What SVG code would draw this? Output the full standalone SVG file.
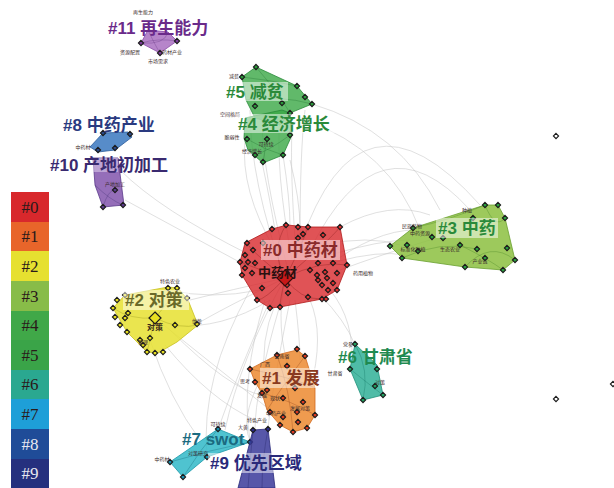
<svg xmlns="http://www.w3.org/2000/svg" xmlns:xlink="http://www.w3.org/1999/xlink" width="614" height="488" viewBox="0 0 614 488">
<style>
.lk{fill:none;stroke:#c8c8c8;stroke-width:0.7;opacity:0.8}
.hull{stroke-width:0.8}
.arc{fill:none;stroke-width:0.6;opacity:0.5}
.lbl{font-family:"Liberation Sans","Noto Sans CJK SC",sans-serif;font-weight:bold;font-size:17px}
.bg{fill:#ffffff;opacity:0.5}
.sm{font-family:"Noto Sans CJK SC",sans-serif;font-size:5px;fill:#3a2a2a}
.leg{font-family:"Liberation Serif",serif;font-size:17px;text-anchor:middle}
.nd{stroke:#1a1a1a;stroke-width:1.1}
</style>
<defs>
<path id="d" d="M0,-2.6L2.6,0L0,2.6L-2.6,0Z"/>
</defs>
<rect width="614" height="488" fill="#ffffff"/>

<g id="links">
<path class="lk" d="M285,278 Q250,180 250,110"/>
<path class="lk" d="M288,270 Q262,170 262,120"/>
<path class="lk" d="M292,260 Q275,170 280,115"/>
<path class="lk" d="M296,255 Q290,170 292,130"/>
<path class="lk" d="M275,250 Q240,190 245,140"/>
<path class="lk" d="M300,240 Q300,150 305,110"/>
<path class="lk" d="M310,250 Q380,110 470,210"/>
<path class="lk" d="M300,245 Q360,70 480,205"/>
<path class="lk" d="M320,245 Q370,235 400,245"/>
<path class="lk" d="M330,255 Q380,240 410,240"/>
<path class="lk" d="M335,262 Q380,250 405,255"/>
<path class="lk" d="M340,270 Q380,255 430,240"/>
<path class="lk" d="M325,268 Q375,230 415,230"/>
<path class="lk" d="M285,278 Q230,290 190,300"/>
<path class="lk" d="M285,278 Q220,310 195,325"/>
<path class="lk" d="M270,300 Q220,330 175,325"/>
<path class="lk" d="M260,290 Q210,300 170,290"/>
<path class="lk" d="M285,278 Q275,330 290,370"/>
<path class="lk" d="M295,300 Q300,340 300,360"/>
<path class="lk" d="M275,305 Q260,340 265,380"/>
<path class="lk" d="M310,300 Q325,335 310,390"/>
<path class="lk" d="M320,295 Q345,320 355,345"/>
<path class="lk" d="M330,290 Q355,320 352,368"/>
<path class="lk" d="M285,278 Q240,360 225,430"/>
<path class="lk" d="M270,300 Q235,380 218,430"/>
<path class="lk" d="M280,305 Q255,390 255,430"/>
<path class="lk" d="M290,300 Q270,400 268,430"/>
<path class="lk" d="M250,290 Q200,380 207,455"/>
<path class="lk" d="M265,300 Q240,380 250,440"/>
<path class="lk" d="M245,265 Q180,230 125,200"/>
<path class="lk" d="M250,255 Q160,210 120,170"/>
<path class="lk" d="M155,318 Q220,370 270,410"/>
<path class="lk" d="M170,330 Q230,390 262,395"/>
<path class="lk" d="M165,345 Q210,400 255,420"/>
<path class="lk" d="M150,340 Q170,400 200,440"/>
<path class="lk" d="M260,380 Q240,420 250,440"/>
<path class="lk" d="M290,160 Q300,200 300,228"/>
<path class="lk" d="M262,162 Q270,200 275,230"/>
<path class="lk" d="M283,155 Q290,200 290,225"/>
<path class="lk" d="M312,104 Q400,130 440,210"/>
<path class="lk" d="M305,120 Q390,150 420,230"/>
<path class="lk" d="M340,227 Q390,200 430,215"/>
</g>

<g id="cluster11">
<polygon class="hull" points="148,30 168,32 177,41 160,53 141,43" fill="#9d5cb8" fill-opacity="0.75" stroke="#8a4aa8"/>
<path class="arc" stroke="#5a2a7a" d="M141,43 Q158,38 177,41 M148,30 Q155,45 160,53 M168,32 Q165,45 141,43"/>
<use href="#d" x="141" y="43" class="nd" fill="#7a3a9a"/>
<use href="#d" x="160" y="53" class="nd" fill="#7a3a9a"/>
<use href="#d" x="177" y="41" class="nd" fill="#7a3a9a"/>
<text class="sm" x="143" y="14" text-anchor="middle">再生能力</text>
<text class="sm" x="130" y="54" text-anchor="middle">资源配置</text>
<text class="sm" x="172" y="54" text-anchor="middle">药材产业</text>
<text class="sm" x="158" y="63" text-anchor="middle">市场需求</text>
<text class="lbl" x="108" y="34" fill="#6a2a8a">#11 再生能力</text>
</g>

<g id="cluster5">
<polygon class="hull" points="242,77 256,67 297,86 312,104 290,113 280,125 255,118 246,100" fill="#3aa845" fill-opacity="0.8" stroke="#2a8a3a"/>
<path class="arc" stroke="#1a6a2a" d="M242,77 Q270,80 297,86 M256,67 Q280,95 290,113 M246,100 Q280,95 312,104"/>
<use href="#d" x="256" y="67" class="nd" fill="#2a9a3a"/>
<use href="#d" x="242" y="77" class="nd" fill="#2a9a3a"/>
<use href="#d" x="297" y="86" class="nd" fill="#2a9a3a"/>
<use href="#d" x="305" y="97" class="nd" fill="#2a9a3a"/>
<use href="#d" x="312" y="104" class="nd" fill="#2a9a3a"/>
<use href="#d" x="282" y="103" class="nd" fill="#2a9a3a"/>
<use href="#d" x="255" y="106" class="nd" fill="#2a9a3a"/>
<text class="sm" x="234" y="78" text-anchor="middle">减贫</text>
</g>

<g id="cluster4">
<polygon class="hull" points="245,118 282,110 290,113 292,135 283,155 263,163 248,150 244,138" fill="#3aa845" fill-opacity="0.8" stroke="#2a8a3a"/>
<path class="arc" stroke="#1a6a2a" d="M247,139 Q265,150 283,155 M267,139 Q265,150 263,162 M290,135 Q270,150 255,155"/>
<use href="#d" x="247" y="139" class="nd" fill="#2a9a3a"/>
<use href="#d" x="267" y="139" class="nd" fill="#2a9a3a"/>
<use href="#d" x="290" y="135" class="nd" fill="#2a9a3a"/>
<use href="#d" x="283" y="155" class="nd" fill="#2a9a3a"/>
<use href="#d" x="263" y="162" class="nd" fill="#2a9a3a"/>
<use href="#d" x="255" y="155" class="nd" fill="#2a9a3a"/>
<use href="#d" x="290" y="113" class="nd" fill="#2a9a3a"/>
<text class="sm" x="230" y="116" text-anchor="middle">空间格局</text>
<text class="sm" x="232" y="139" text-anchor="middle">脆弱性</text>
<text class="sm" x="266" y="146" text-anchor="middle">可持续</text>
<text class="sm" x="252" y="153" text-anchor="middle">经济增长</text>
<rect class="bg" x="226" y="82" width="62" height="19"/>
<rect class="bg" x="236" y="114" width="100" height="19"/>
<text class="lbl" x="226" y="98" fill="#2a8a3a">#5 减贫</text>
<text class="lbl" x="238" y="130" fill="#2a8a3a">#4 经济增长</text>
</g>

<g id="cluster8">
<polygon class="hull" points="90,147 103,133 128,132 132,137 115,150 98,152" fill="#3a78c0" fill-opacity="0.85" stroke="#2a5a9a"/>
<use href="#d" x="103" y="133" class="nd" fill="#2a4a8a"/>
<use href="#d" x="130" y="134" class="nd" fill="#2a4a8a"/>
<use href="#d" x="115" y="148" class="nd" fill="#2a4a8a"/>
<use href="#d" x="98" y="150" class="nd" fill="#2a4a8a"/>
<text class="sm" x="83" y="149" text-anchor="middle">中药材</text>
<text class="lbl" x="63" y="131" fill="#2a3a80">#8 中药产业</text>
</g>

<g id="cluster10">
<polygon class="hull" points="93,158 118,158 124,205 103,207 95,185" fill="#7a4aa8" fill-opacity="0.8" stroke="#5a3a8a"/>
<rect x="93" y="158" width="25" height="14" fill="#d8c8e8" opacity="0.6"/>
<path class="arc" stroke="#3a2a6a" d="M95,185 Q110,200 123,205 M103,207 Q108,190 115,190"/>
<use href="#d" x="115" y="190" class="nd" fill="#5a3a8a"/>
<use href="#d" x="103" y="207" class="nd" fill="#5a3a8a"/>
<use href="#d" x="123" y="205" class="nd" fill="#5a3a8a"/>
<text class="sm" x="115" y="186" text-anchor="middle">产地加工</text>
<text class="lbl" x="50" y="171" fill="#3a2a70">#10 产地初加工</text>
</g>

<g id="cluster0">
<polygon class="hull" points="245,243 272,229 287,225 308,227 340,227 347,265 337,290 322,299 280,307 270,308 257,300 242,275 240,262" fill="#d8282c" fill-opacity="0.8" stroke="#b01a1a"/>
<path class="arc" stroke="#7a1010" d="M285,278 Q270,250 286,225 M285,278 Q300,250 308,227 M285,278 Q320,260 347,265 M285,278 Q260,270 240,262 M285,278 Q265,300 257,300 M285,278 Q300,300 322,299 M285,278 Q330,240 340,227 M285,278 Q250,250 247,243 M285,278 Q280,300 280,307"/>
<g fill="#e03030" class="nd">
<use href="#d" x="286" y="225"/><use href="#d" x="298" y="227"/><use href="#d" x="308" y="227"/><use href="#d" x="340" y="227"/>
<use href="#d" x="272" y="229"/><use href="#d" x="303" y="234"/><use href="#d" x="323" y="235"/><use href="#d" x="298" y="238"/>
<use href="#d" x="247" y="243"/><use href="#d" x="253" y="250"/><use href="#d" x="263" y="243"/><use href="#d" x="245" y="255"/>
<use href="#d" x="240" y="262"/><use href="#d" x="248" y="262"/><use href="#d" x="255" y="263"/><use href="#d" x="318" y="263"/>
<use href="#d" x="333" y="263"/><use href="#d" x="347" y="265"/><use href="#d" x="245" y="268"/><use href="#d" x="310" y="270"/>
<use href="#d" x="325" y="272"/><use href="#d" x="337" y="273"/><use href="#d" x="242" y="275"/><use href="#d" x="252" y="273"/>
<use href="#d" x="317" y="275"/><use href="#d" x="327" y="278"/><use href="#d" x="318" y="280"/><use href="#d" x="333" y="283"/>
<use href="#d" x="322" y="285"/><use href="#d" x="287" y="285"/><use href="#d" x="262" y="288"/><use href="#d" x="328" y="290"/>
<use href="#d" x="337" y="290"/><use href="#d" x="288" y="293"/><use href="#d" x="308" y="297"/><use href="#d" x="322" y="299"/>
<use href="#d" x="326" y="299"/><use href="#d" x="280" y="307"/><use href="#d" x="270" y="308"/><use href="#d" x="257" y="300"/>
</g>
<path d="M285,270L293,278L285,286L277,278Z" fill="#c81818" stroke="#3a0a0a" stroke-width="1.2"/>
<text x="258" y="277" font-family="Noto Sans CJK SC,sans-serif" font-size="13" font-weight="bold" fill="#2a1010">中药材</text>
<text class="sm" x="353" y="275">药用植物</text>
<rect class="bg" x="261" y="240" width="79" height="20" fill="#f6e0e0"/>
<text class="lbl" x="263" y="256" fill="#8a2a2a">#0 中药材</text>
</g>

<g id="cluster3">
<polygon class="hull" points="390,246 413,228 485,205 498,205 505,218 515,260 503,270 465,267 402,258" fill="#8cc040" fill-opacity="0.85" stroke="#6aa030"/>
<path class="arc" stroke="#3a7a1a" d="M465,267 Q490,240 515,260 M485,205 Q495,230 505,218 M402,258 Q440,240 477,249 M413,228 Q450,220 485,205 M460,245 Q490,260 503,270"/>
<g fill="#2aa040" class="nd">
<use href="#d" x="485" y="205"/><use href="#d" x="498" y="205"/><use href="#d" x="505" y="218"/><use href="#d" x="390" y="246"/>
<use href="#d" x="413" y="228"/><use href="#d" x="407" y="245"/><use href="#d" x="432" y="237"/><use href="#d" x="443" y="238"/>
<use href="#d" x="460" y="245"/><use href="#d" x="477" y="249"/><use href="#d" x="418" y="251"/><use href="#d" x="402" y="258"/>
<use href="#d" x="507" y="248"/><use href="#d" x="515" y="260"/><use href="#d" x="485" y="258"/><use href="#d" x="465" y="267"/>
<use href="#d" x="503" y="270"/><use href="#d" x="473" y="218"/>
</g>
<text class="sm" x="467" y="212" text-anchor="middle">种植</text>
<text class="sm" x="412" y="228" text-anchor="middle">民族药物</text>
<text class="sm" x="420" y="235" text-anchor="middle">中药资源</text>
<text class="sm" x="413" y="251" text-anchor="middle">标准化种植</text>
<text class="sm" x="450" y="251" text-anchor="middle">生态农业</text>
<text class="sm" x="480" y="263" text-anchor="middle">产业链</text>
<rect class="bg" x="436" y="218" width="62" height="20"/>
<text class="lbl" x="438" y="234" fill="#2a8a3a">#3 中药</text>
</g>

<g id="cluster2">
<polygon class="hull" points="125,295 168,287 178,288 188,300 198,325 177,342 158,353 147,352 127,332 113,308" fill="#e6e030" fill-opacity="0.85" stroke="#c8c020"/>
<path class="arc" stroke="#8a8a10" d="M155,318 Q170,300 178,288 M155,318 Q130,320 113,308 M155,318 Q180,330 198,325 M155,318 Q150,340 147,352"/>
<g fill="#e8e020" class="nd">
<use href="#d" x="125" y="295"/><use href="#d" x="168" y="288"/><use href="#d" x="177" y="288"/><use href="#d" x="187" y="298"/>
<use href="#d" x="117" y="300"/><use href="#d" x="113" y="308"/><use href="#d" x="128" y="313"/><use href="#d" x="125" y="318"/>
<use href="#d" x="115" y="317"/><use href="#d" x="175" y="325"/><use href="#d" x="197" y="324"/><use href="#d" x="120" y="325"/>
<use href="#d" x="127" y="332"/><use href="#d" x="150" y="338"/><use href="#d" x="140" y="340"/><use href="#d" x="143" y="345"/>
<use href="#d" x="147" y="352"/><use href="#d" x="155" y="353"/><use href="#d" x="163" y="352"/>
</g>
<path d="M155,312L161,318L155,324L149,318Z" fill="#e8e020" stroke="#1a1a1a" stroke-width="1.2"/>
<text x="155" y="330" font-family="Noto Sans CJK SC,sans-serif" font-size="8" font-weight="bold" fill="#3a2a1a" text-anchor="middle">对策</text>
<text class="sm" x="170" y="283" text-anchor="middle">特色农业</text>
<text class="sm" x="197" y="323" text-anchor="middle">优势</text>
<text class="sm" x="143" y="344" text-anchor="middle">管理</text>
<rect class="bg" x="123" y="290" width="66" height="20"/>
<text class="lbl" x="125" y="306" fill="#6a6a2a">#2 对策</text>
</g>

<g id="cluster1">
<polygon class="hull" points="250,369 277,355 297,350 305,356 315,388 315,415 307,428 293,432 280,425 267,410 262,393 255,382" fill="#ec8a30" fill-opacity="0.85" stroke="#d06a20"/>
<path class="arc" stroke="#8a3a10" d="M262,393 Q290,400 315,415 M277,355 Q290,390 293,432 M305,356 Q280,390 267,410 M250,369 Q300,380 315,388"/>
<g fill="#e03a20" class="nd">
<use href="#d" x="297" y="349"/><use href="#d" x="305" y="356"/><use href="#d" x="277" y="355"/><use href="#d" x="287" y="366"/>
<use href="#d" x="250" y="369"/><use href="#d" x="255" y="382"/><use href="#d" x="262" y="393"/><use href="#d" x="267" y="390"/>
<use href="#d" x="283" y="398"/><use href="#d" x="295" y="388"/><use href="#d" x="303" y="402"/><use href="#d" x="297" y="412"/>
<use href="#d" x="315" y="415"/><use href="#d" x="270" y="412"/><use href="#d" x="283" y="417"/><use href="#d" x="298" y="422"/>
<use href="#d" x="307" y="428"/><use href="#d" x="293" y="432"/><use href="#d" x="280" y="425"/>
</g>
<text class="sm" x="282" y="358" text-anchor="middle">云南省</text>
<text class="sm" x="265" y="366" text-anchor="middle">广西</text>
<text class="sm" x="245" y="383" text-anchor="middle">思考</text>
<text class="sm" x="262" y="397" text-anchor="middle">发展</text>
<text class="sm" x="275" y="400" text-anchor="middle">现状</text>
<text class="sm" x="300" y="410" text-anchor="middle">发展对策</text>
<text class="sm" x="276" y="415" text-anchor="middle">中药产业</text>
<text class="sm" x="257" y="422" text-anchor="middle">特色产业</text>
<rect class="bg" x="260" y="368" width="62" height="20"/>
<text class="lbl" x="262" y="384" fill="#8a3a20">#1 发展</text>
</g>

<g id="cluster6">
<polygon class="hull" points="355,344 377,365 383,395 363,400 350,369" fill="#30b098" fill-opacity="0.85" stroke="#20907a"/>
<path class="arc" stroke="#0a6a5a" d="M355,344 Q370,370 363,400 M350,369 Q370,385 383,395"/>
<g fill="#20a060" class="nd">
<use href="#d" x="355" y="344"/><use href="#d" x="350" y="369"/><use href="#d" x="377" y="369"/><use href="#d" x="375" y="386"/><use href="#d" x="383" y="395"/><use href="#d" x="363" y="400"/>
</g>
<text class="sm" x="348" y="346" text-anchor="middle">党参</text>
<text class="sm" x="335" y="375" text-anchor="middle">甘肃省</text>
<text class="sm" x="380" y="384" text-anchor="middle">对策</text>
<text class="lbl" x="338" y="363" fill="#1f8a50">#6 甘肃省</text>
</g>

<g id="cluster7">
<polygon class="hull" points="218,429 250,442 207,457 183,477 170,462" fill="#30b8c8" fill-opacity="0.85" stroke="#1a98a8"/>
<path class="arc" stroke="#0a5a6a" d="M170,462 Q210,450 250,442 M218,429 Q200,450 183,477"/>
<g fill="#1a90b0" class="nd">
<use href="#d" x="218" y="429"/><use href="#d" x="250" y="442"/><use href="#d" x="207" y="457"/><use href="#d" x="170" y="462"/><use href="#d" x="183" y="477"/>
</g>
<text class="sm" x="218" y="426" text-anchor="middle">可持续</text>
<text class="sm" x="198" y="455" text-anchor="middle">对策研究</text>
<text class="sm" x="162" y="461" text-anchor="middle">中药材</text>
<text class="lbl" x="182" y="445" fill="#1a6a80">#7 swot</text>
</g>

<g id="cluster9">
<polygon class="hull" points="253,430 268,429 275,488 238,488" fill="#3a3a9a" fill-opacity="0.85" stroke="#2a2a7a"/>
<path class="arc" stroke="#1a1a5a" d="M253,430 Q250,460 248,488 M268,429 Q262,460 262,488"/>
<use href="#d" x="253" y="430" class="nd" fill="#2a2a8a"/>
<use href="#d" x="268" y="429" class="nd" fill="#2a2a8a"/>
<text class="sm" x="243" y="429" text-anchor="middle">大黄</text>
<rect class="bg" x="208" y="453" width="97" height="20"/>
<text class="lbl" x="210" y="469" fill="#2a2a7a">#9 优先区域</text>
</g>

<g id="isolated">
<use href="#d" x="556" y="136" class="nd" fill="#ffffff" stroke-width="1"/>
<use href="#d" x="556" y="399" class="nd" fill="#ffffff" stroke-width="1"/>
<use href="#d" x="613" y="384" class="nd" fill="#ffffff" stroke-width="1"/>
</g>

<g id="legend">
<rect x="11" y="192" width="38" height="30" fill="#d8282c"/>
<rect x="11" y="222" width="38" height="29" fill="#e8652a"/>
<rect x="11" y="251" width="38" height="30" fill="#e6e030"/>
<rect x="11" y="281" width="38" height="30" fill="#88bc48"/>
<rect x="11" y="311" width="38" height="29" fill="#40a848"/>
<rect x="11" y="340" width="38" height="30" fill="#3aa448"/>
<rect x="11" y="370" width="38" height="29" fill="#2aa890"/>
<rect x="11" y="399" width="38" height="30" fill="#1e9fd8"/>
<rect x="11" y="429" width="38" height="30" fill="#1f4c98"/>
<rect x="11" y="459" width="38" height="29" fill="#25307e"/>
<text class="leg" x="30" y="213" fill="#2a1a1a">#0</text>
<text class="leg" x="30" y="242" fill="#2a1a1a">#1</text>
<text class="leg" x="30" y="272" fill="#2a1a1a">#2</text>
<text class="leg" x="30" y="302" fill="#2a1a1a">#3</text>
<text class="leg" x="30" y="331" fill="#2a1a1a">#4</text>
<text class="leg" x="30" y="361" fill="#2a1a1a">#5</text>
<text class="leg" x="30" y="390" fill="#2a1a1a">#6</text>
<text class="leg" x="30" y="420" fill="#2a1a1a">#7</text>
<text class="leg" x="30" y="450" fill="#e8e8f0">#8</text>
<text class="leg" x="30" y="479" fill="#e8e8f0">#9</text>
</g>
</svg>
